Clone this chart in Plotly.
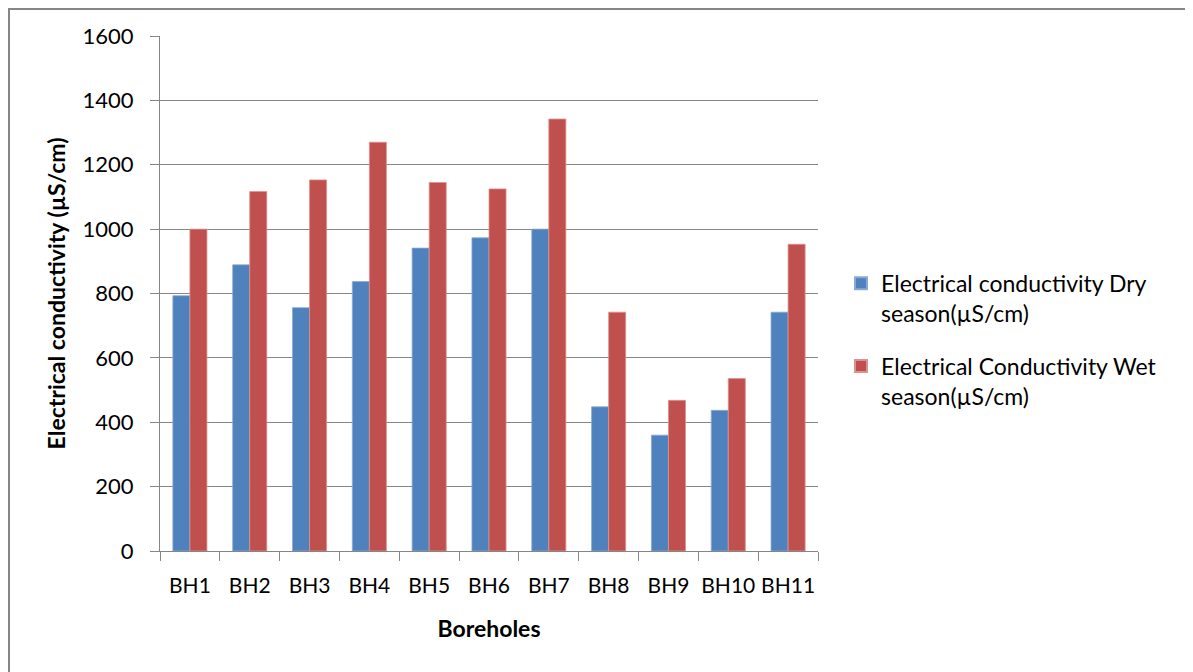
import plotly.graph_objects as go

categories = ["BH1", "BH2", "BH3", "BH4", "BH5", "BH6", "BH7", "BH8", "BH9", "BH10", "BH11"]
dry_season = [793, 889, 756, 837, 941, 973, 1000, 448, 360, 437, 742]
wet_season = [1000, 1117, 1153, 1270, 1145, 1125, 1342, 742, 468, 536, 953]
y_ticks = [0, 200, 400, 600, 800, 1000, 1200, 1400, 1600]

FONT = "Lato"

fig = go.Figure()
fig.add_trace(go.Bar(
    x=categories, y=dry_season, legendgroup="dry",
    name="Electrical conductivity Dry<br>season(µS/cm)",
    marker=dict(color="#4F81BD", line=dict(color="#8AAAD4", width=0.8)),
))
fig.add_trace(go.Bar(
    x=categories, y=wet_season, legendgroup="wet",
    name="Electrical Conductivity Wet<br>season(µS/cm)",
    marker=dict(color="#C0504D", line=dict(color="#DB9391", width=0.8)),
))

fig.update_layout(
    width=1185, height=664,
    paper_bgcolor="white", plot_bgcolor="white",
    margin=dict(l=152, r=375, t=28, b=121),
    barmode="group", bargap=0.43, bargroupgap=0,
    font=dict(family=FONT, size=22, color="#000000"),
    legend=dict(
        x=1.035, y=0.41, xanchor="left", yanchor="middle",
        font=dict(family=FONT, size=23, color="#000000"),
        tracegroupgap=20, itemsizing="constant", valign="top",
        bgcolor="rgba(0,0,0,0)",
    ),
    showlegend=True,
)
fig.update_xaxes(
    title=dict(text="<b>Boreholes</b>", font=dict(family=FONT, size=23), standoff=24),
    showline=True, linecolor="#868686", linewidth=1,
    ticks="outside", ticklen=9, tickcolor="#868686", tickson="boundaries",
    ticklabelstandoff=16, tickangle=0,
    tickfont=dict(family=FONT, size=21),
    showgrid=False,
)
fig.update_yaxes(
    title=dict(text="<b>Electrical conductivity (µS/cm)</b>", font=dict(family=FONT, size=23), standoff=10),
    range=[0, 1600], tickvals=y_ticks,
    showline=True, linecolor="#868686", linewidth=1,
    ticks="outside", ticklen=9, tickcolor="#868686",
    ticklabelstandoff=12,
    showgrid=True, gridcolor="#868686", gridwidth=1,
    zeroline=False,
    tickfont=dict(family=FONT, size=22),
)
fig.add_shape(
    type="rect", xref="paper", yref="paper",
    x0=-0.2295, x1=1.7, y0=-0.4, y1=1.0524,
    line=dict(color="#868686", width=2), fillcolor="rgba(0,0,0,0)", layer="below",
)

fig.write_html("out.html")
